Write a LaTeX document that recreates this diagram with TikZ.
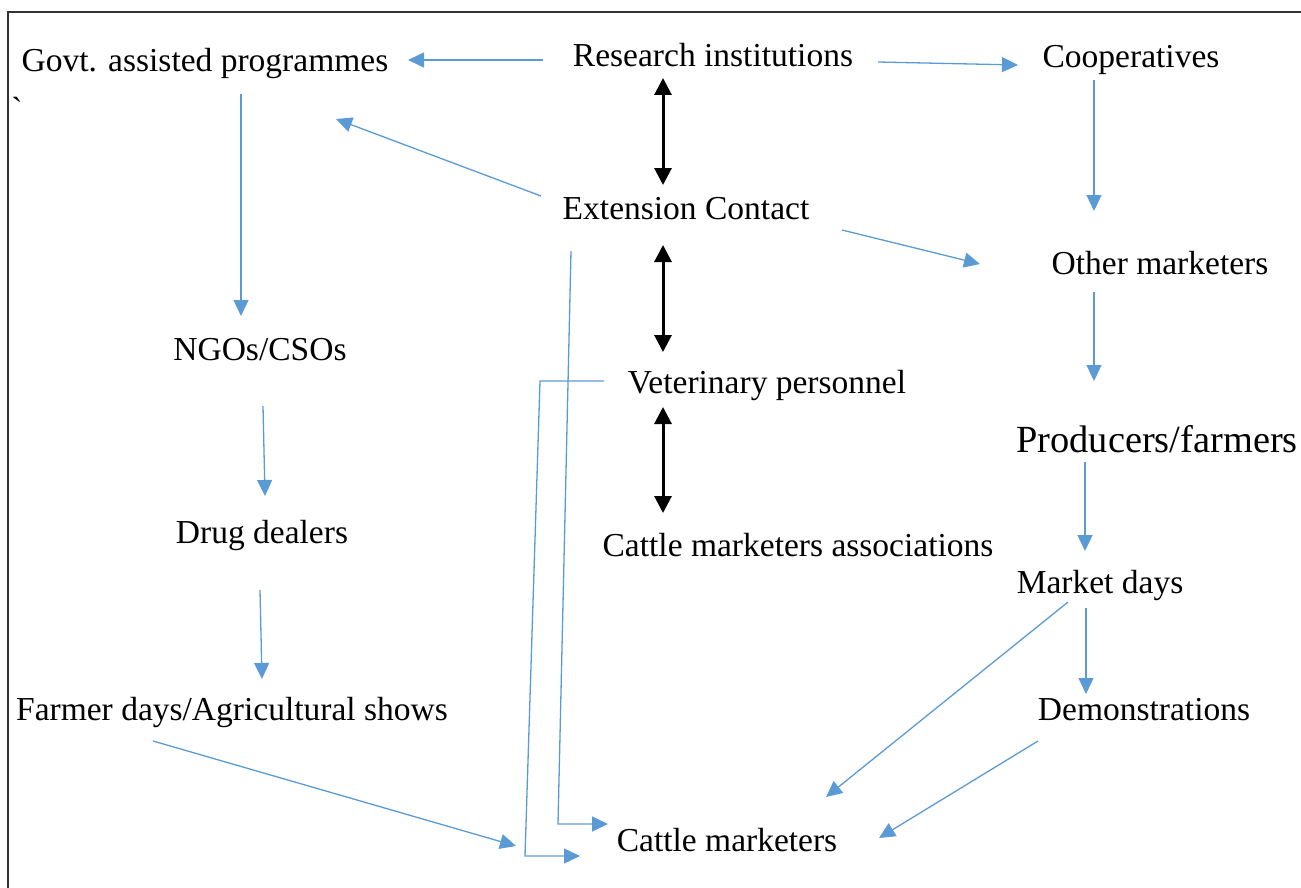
\documentclass[tikz,border=0pt]{standalone}
\usepackage{fontspec}
\setmainfont{Liberation Serif}
\usetikzlibrary{arrows.meta,calc}
\definecolor{arrowblue}{RGB}{91,155,213}
\begin{document}
\begin{tikzpicture}[x=0.5pt,y=-0.5pt,
  lbl/.style={anchor=base,inner sep=0pt,font=\fontsize{16.75}{20}\selectfont},
  big/.style={anchor=base,inner sep=0pt,font=\fontsize{19.2}{23}\selectfont},
  ba/.style={draw=arrowblue,line width=0.65pt,-{Triangle[length=8pt,width=7.5pt]}},
  bla/.style={draw=black,line width=1.5pt,{Triangle[length=8.5pt,width=8.5pt]}-{Triangle[length=8.5pt,width=8.5pt]}},
  frameline/.style={draw=black!80,line width=0.75pt}]
\useasboundingbox (0,0) rectangle (1301,888);
\draw[frameline] (8,888) -- (8,12) -- (1301,12);

% nodes
\node[lbl] (govt)  at (205,72)  {Govt. assisted programmes};
\node[lbl] (res)   at (713,67)  {Research institutions};
\node[lbl] (coop)  at (1131,68) {Cooperatives};
\node[lbl] (tick)  at (17,120)  {\textasciigrave};
\node[lbl] (ext)   at (686,220) {Extension Contact};
\node[lbl] (oth)   at (1160,274) {Other marketers};
\node[lbl] (ngo)   at (260,360) {NGOs/CSOs};
\node[lbl] (vet)   at (767,393) {Veterinary personnel};
\node[big] (prod)  at (1157,452) {Producers/farmers};
\node[lbl] (drug)  at (262,543) {Drug dealers};
\node[lbl] (assoc) at (798,556) {Cattle marketers associations};
\node[lbl] (mkt)   at (1100,593) {Market days};
\node[lbl] (farm)  at (232,720) {Farmer days/Agricultural shows};
\node[lbl] (demo)  at (1144,720) {Demonstrations};
\node[lbl] (cm)    at (727,851) {Cattle marketers};

% blue arrows
\draw[ba] ($(res.base)+(-170,-7)$) -- ($(govt.base)+(203,-12)$);
\draw[ba] ($(res.base)+(165,-5)$) -- ($(coop.base)+(-113,-3)$);
\draw[ba] ($(ext.base)+(-145,-24)$) -- ($(govt.base)+(131,47)$);
\draw[ba] ($(ext.base)+(156,10)$) -- ($(oth.base)+(-180,-10)$);
\draw[ba] ($(govt.base)+(36,22)$) -- ($(ngo.base)+(-19,-44)$);
\draw[ba] ($(ngo.base)+(3,46)$) -- ($(drug.base)+(3,-47)$);
\draw[ba] ($(drug.base)+(-2,47)$) -- ($(farm.base)+(30,-41)$);
\draw[ba] ($(farm.base)+(-79,21)$) -- ($(cm.base)+(-211,-5)$);
\draw[ba] ($(coop.base)+(-37,12)$) -- ($(oth.base)+(-66,-63)$);
\draw[ba] ($(oth.base)+(-66,18)$) -- ($(prod.base)+(-63,-71)$);
\draw[ba] ($(prod.base)+(-72,10)$) -- ($(mkt.base)+(-15,-42)$);
\draw[ba] ($(mkt.base)+(-14,15)$) -- ($(demo.base)+(-58,-26)$);
\draw[ba] ($(mkt.base)+(-32,9)$) -- ($(cm.base)+(99,-54)$);
\draw[ba] ($(demo.base)+(-106,21)$) -- ($(cm.base)+(152,-13)$);
\draw[ba] ($(ext.base)+(-115,31)$) -- ($(cm.base)+(-169,-27)$) -- ($(cm.base)+(-119,-27)$);
\draw[ba] ($(vet.base)+(-163,-12)$) -- ($(vet.base)+(-227,-12)$) -- ($(cm.base)+(-202,5)$) -- ($(cm.base)+(-147,5)$);

% black double arrows
\draw[bla] ($(res.base)+(-50,11)$) -- ($(ext.base)+(-23,-35)$);
\draw[bla] ($(ext.base)+(-23,25)$) -- ($(vet.base)+(-104,-41)$);
\draw[bla] ($(vet.base)+(-104,14)$) -- ($(assoc.base)+(-135,-43)$);
\end{tikzpicture}
\end{document}
